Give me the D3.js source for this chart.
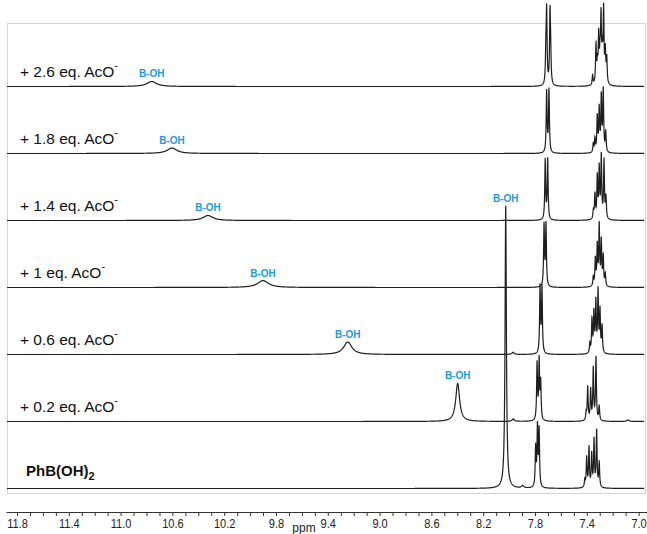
<!DOCTYPE html>
<html>
<head>
<meta charset="utf-8">
<script src="https://cdn.jsdelivr.net/npm/d3@7"></script>
<style>
body{margin:0;background:#fff;}
svg{display:block;font-family:"Liberation Sans",Arial,sans-serif;}
</style>
</head>
<body>
<svg id="chart" width="647" height="534"></svg>
<script>
/************************************ Data *******************************/
// equivalents of acetate added, top spectrum first
var equivalents = [2.6, 1.8, 1.4, 1, 0.6, 0.2, 0];

// B-OH signal: shift (ppm), intensity (a.u.), half width (ppm)
var bohShift  = [10.760, 10.603, 10.325, 9.900, 9.246, 8.397, 8.026];
var bohHeight = [6.7, 7.3, 6.7, 9.3, 16.7, 50.7, 377];
var bohWidth  = [0.045, 0.045, 0.045, 0.05, 0.038, 0.018, 0.006];

// aromatic lines [ppm, intensity]
var aromaticPeaks = [
	[[7.716,38],[7.710,96],[7.684,93],[7.679,33],
	 [7.355,13],[7.329,52],[7.318,26],[7.308,62],[7.298,34],[7.290,85],[7.280,38],[7.270,96],[7.257,42],[7.246,34]],
	[[7.710,82],[7.692,84],
	 [7.350,11],[7.337,18],[7.319,47],[7.304,57],[7.288,73],[7.273,82],[7.254,27]],
	[[7.721,80],[7.702,81],
	 [7.349,11],[7.337,33],[7.319,56],[7.304,67],[7.288,83],[7.267,77],[7.252,29]],
	[[7.730,82],[7.715,83],
	 [7.350,12],[7.334,36],[7.319,53],[7.304,80],[7.288,59],[7.273,39],[7.257,16]],
	[[7.761,89],[7.746,88],
	 [7.376,13],[7.360,44],[7.345,53],[7.330,67],[7.313,82],[7.298,56],[7.282,36]],
	[[7.784,76],[7.768,79],[7.756,50],
	 [7.405,10],[7.393,45],[7.370,41],[7.350,69],[7.329,84],[7.304,19]],
	[[7.795,53],[7.781,79],[7.768,76],
	 [7.415,10],[7.401,40],[7.383,53],[7.362,44],[7.344,63],[7.324,75],[7.304,33]]
];
// small impurity bumps [ppm, intensity]
var minorPeaks = [[], [], [], [], [[7.970,3]], [[7.968,3.3],[7.082,2]], [[7.895,3.3]]];

var tickLabels = ["11.8","11.4","11.0","10.6","10.2","9.8","9.4","9.0","8.6","8.2","7.8","7.4","7.0"];

/************************************ Scales *******************************/
var svg = d3.select("#chart");
var x = d3.scaleLinear().domain([11.885, 6.935]).range([6, 647]);
var yBase = d3.scalePoint().domain(equivalents).range([86.5, 488.5]);
var yInt = d3.scaleLinear().domain([0, 100]).range([0, 75]);

// frame
svg.append("rect")
	.attr("x", 7.5).attr("y", 23.5)
	.attr("width", 638).attr("height", 470)
	.attr("fill", "none")
	.attr("stroke", "#d4d4d4");

/************************************ Spectra *******************************/
function peakList(i){
	var pk = [[bohShift[i], bohHeight[i], bohWidth[i]]];
	aromaticPeaks[i].forEach(function(p){ pk.push([p[0], p[1], 0.004]); });
	minorPeaks[i].forEach(function(p){ pk.push([p[0], p[1], 0.01]); });
	return pk;
}
function intensityAt(ppm, pk){
	var s = 0;
	pk.forEach(function(p){
		var d = ppm - p[0];
		s += p[1]*p[2]*p[2]/(d*d + p[2]*p[2]);
	});
	return s;
}

var line = d3.line().x(function(d){ return x(d[0]); }).y(function(d){ return d[1]; });

equivalents.forEach(function(eq, i){
	var pk = peakList(i);
	var grid = d3.range(7, 644.01, 0.2).map(function(px){ return x.invert(px); });
	pk.forEach(function(p){ grid.push(p[0]); });
	grid.sort(function(a, b){ return b - a; });
	var base = yBase(eq);
	var pts = grid.map(function(ppm){ return [ppm, base - yInt(intensityAt(ppm, pk))]; });
	svg.append("path")
		.attr("d", line(pts))
		.attr("fill", "none")
		.attr("stroke", "#1e1e1e")
		.attr("stroke-width", 1.2);
});

/************************************ Labels *******************************/
equivalents.forEach(function(eq, i){
	var base = yBase(eq);
	var t = svg.append("text").attr("fill", "#111");
	if (eq > 0) {
		t.attr("x", 20).attr("y", base - 10).attr("font-size", 15.5);
		t.append("tspan").text("+ " + eq + " eq. AcO");
		t.append("tspan").attr("font-size", 11).attr("dy", -8).text("-");
	} else {
		t.attr("x", 26).attr("y", base - 13).attr("font-size", 15).attr("font-weight", "bold");
		t.append("tspan").text("PhB(OH)");
		t.append("tspan").attr("font-size", 11).attr("dy", 4).text("2");
	}
	// B-OH marker
	svg.append("text")
		.attr("x", x(bohShift[i]))
		.attr("y", base - yInt(bohHeight[i]) - 4)
		.attr("text-anchor", "middle")
		.attr("font-size", 10)
		.attr("font-weight", "bold")
		.attr("fill", "#1a9be0")
		.text("B-OH");
});

/************************************ Axis *******************************/
var ticks = d3.range(70, 119).map(function(v){ return v/10; });
var axis = d3.axisBottom(x)
	.tickValues(ticks)
	.tickSize(4)
	.tickSizeOuter(0)
	.tickFormat(function(d){ var s = d.toFixed(1); return tickLabels.indexOf(s) >= 0 ? s : ""; });

var gx = svg.append("g").attr("transform", "translate(0,512)").call(axis);
gx.select(".domain").attr("stroke", "#333");
gx.selectAll(".tick line").attr("stroke", "#333");
gx.selectAll(".tick text")
	.attr("font-size", 13)
	.attr("font-family", "Liberation Sans, Arial, sans-serif")
	.attr("fill", "#222")
	.attr("transform", "scale(0.85,1)");

svg.append("text")
	.attr("x", 304).attr("y", 532)
	.attr("text-anchor", "middle")
	.attr("font-size", 12)
	.attr("fill", "#222")
	.text("ppm");
</script>
</body>
</html>
